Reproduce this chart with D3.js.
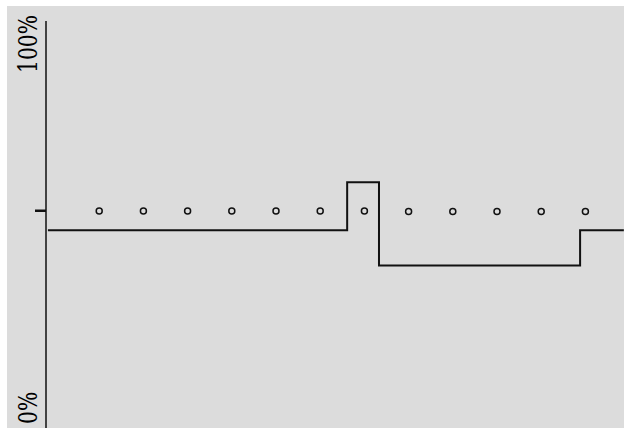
<!DOCTYPE html>
<html>
<head>
<meta charset="utf-8">
<script src="https://cdn.jsdelivr.net/npm/d3@7"></script>
<style>
  body { margin: 0; background: #fff; }
  svg { display: block; }
  .end-label { font-family: 'DejaVu Serif', serif; font-size: 26px; }
</style>
</head>
<body>
<script>
// chart size
const width = 624;
const height = 428;

// data
const pointIndex = [1, 2, 3, 4, 5, 6, 7, 8, 9, 10, 11, 12];
const pointValues = [0.533, 0.533, 0.533, 0.533, 0.533, 0.533, 0.533, 0.532, 0.532, 0.532, 0.532, 0.532];
const stepX = [-0.16, 6.61, 7.33, 11.88, 12.87];
const stepValues = [0.486, 0.604, 0.399, 0.486, 0.486];
const yTickValues = [0.535];
const yEndLabels = ['0%', '100%'];

const svg = d3.select('body')
    .append('svg')
    .attr('width', width)
    .attr('height', height);

// gray panel
svg.append('rect')
    .attr('x', 7)
    .attr('y', 6)
    .attr('width', width - 7)
    .attr('height', height - 6)
    .attr('fill', '#dcdcdc');

// scales
const xScale = d3.scaleLinear()
    .domain([0, 13])
    .range([55, 629.6]);

const yScale = d3.scaleLinear()
    .domain([0, 1])
    .range([428, 21]);

// y axis line + the single unlabeled tick
const yAxis = svg.append('g')
    .attr('transform', 'translate(46,0)')
    .call(d3.axisLeft(yScale)
        .tickValues(yTickValues)
        .tickSize(11)
        .tickFormat(''));
yAxis.select('.domain')
    .attr('d', `M0,${yScale(1)}V${height}`)
    .attr('stroke', '#111')
    .attr('stroke-width', 1.5);
yAxis.selectAll('.tick line')
    .attr('stroke', '#111')
    .attr('stroke-width', 2.5);

// end labels, rotated (font condensed along the text)
svg.append('text')
    .attr('class', 'end-label')
    .attr('transform', `translate(37,${yScale(0) - 4}) rotate(-90) scale(0.78,1)`)
    .attr('text-anchor', 'start')
    .attr('fill', '#000')
    .text(yEndLabels[0]);

svg.append('text')
    .attr('class', 'end-label')
    .attr('transform', `translate(37,${yScale(1) - 6}) rotate(-90) scale(0.78,1)`)
    .attr('text-anchor', 'end')
    .attr('fill', '#000')
    .text(yEndLabels[1]);

// step line
const stepData = stepX.map((x, i) => ({ x: x, y: stepValues[i] }));
const line = d3.line()
    .x(d => xScale(d.x))
    .y(d => yScale(d.y))
    .curve(d3.curveStepAfter);

svg.append('path')
    .datum(stepData)
    .attr('d', line)
    .attr('fill', 'none')
    .attr('stroke', '#111')
    .attr('stroke-width', 2);

// hollow points
svg.selectAll('circle')
    .data(pointIndex)
    .enter()
    .append('circle')
    .attr('cx', d => xScale(d))
    .attr('cy', (d, i) => yScale(pointValues[i]))
    .attr('r', 3)
    .attr('fill', 'none')
    .attr('stroke', '#111')
    .attr('stroke-width', 1.5);
</script>
</body>
</html>
